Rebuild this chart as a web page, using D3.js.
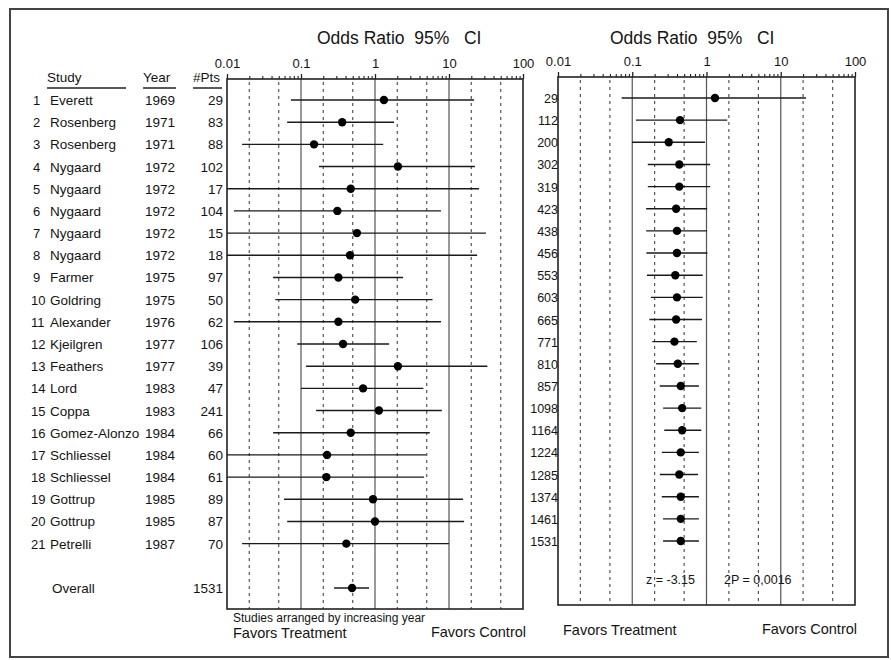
<!DOCTYPE html>
<html>
<head>
<meta charset="utf-8">
<script src="https://cdn.jsdelivr.net/npm/d3@7"></script>
<style>
  body { margin: 0; background: #fff; }
  text { font-family: "Liberation Sans", Arial, Helvetica, sans-serif; fill: #141414; }
</style>
</head>
<body>
<div id="viz-container"></div>
<script>
// data (odds ratio with 95% CI)
let studyNames = ["Everett", "Rosenberg", "Rosenberg", "Nygaard", "Nygaard", "Nygaard", "Nygaard", "Nygaard",
                  "Farmer", "Goldring", "Alexander", "Kjeilgren", "Feathers", "Lord", "Coppa", "Gomez-Alonzo",
                  "Schliessel", "Schliessel", "Gottrup", "Gottrup", "Petrelli"];
let studyYears = [1969, 1971, 1971, 1972, 1972, 1972, 1972, 1972, 1975, 1975, 1976, 1977, 1977, 1983, 1983, 1984,
                  1984, 1984, 1985, 1985, 1987];
let studyPts = [29, 83, 88, 102, 17, 104, 15, 18, 97, 50, 62, 106, 39, 47, 241, 66, 60, 61, 89, 87, 70];

// individual studies (left panel); lows under 0.01 run off the left edge
let studyOR = [1.32, 0.36, 0.15, 2.04, 0.47, 0.31, 0.57, 0.46, 0.32, 0.54, 0.32, 0.37, 2.04, 0.69, 1.13, 0.47,
               0.225, 0.22, 0.94, 1.0, 0.41];
let studyLow = [0.073, 0.065, 0.016, 0.175, 0.005, 0.0124, 0.005, 0.005, 0.042, 0.045, 0.0124, 0.089, 0.117, 0.10,
                0.16, 0.042, 0.005, 0.005, 0.059, 0.065, 0.016];
let studyHigh = [21.8, 1.81, 1.29, 22.4, 25.5, 7.8, 31.6, 24, 2.4, 6.0, 7.8, 1.55, 33, 4.5, 8.0, 5.5, 4.9, 4.6,
                 15.5, 16, 10];

let overallPts = 1531;
let overallOR = 0.49, overallLow = 0.28, overallHigh = 0.83;

// cumulative meta-analysis (right panel)
let cumPts = [29, 112, 200, 302, 319, 423, 438, 456, 553, 603, 665, 771, 810, 857, 1098, 1164, 1224, 1285, 1374,
              1461, 1531];
let cumOR = [1.30, 0.44, 0.31, 0.43, 0.43, 0.39, 0.40, 0.40, 0.38, 0.40, 0.39, 0.37, 0.41, 0.45, 0.47, 0.47, 0.45,
             0.43, 0.45, 0.45, 0.45];
let cumLow = [0.072, 0.112, 0.099, 0.162, 0.162, 0.154, 0.154, 0.155, 0.158, 0.178, 0.17, 0.186, 0.21, 0.235, 0.26,
              0.27, 0.25, 0.235, 0.25, 0.26, 0.26];
let cumHigh = [21.9, 1.9, 0.955, 1.12, 1.12, 1.02, 1.02, 1.03, 0.89, 0.89, 0.87, 0.74, 0.79, 0.79, 0.85, 0.85, 0.79,
               0.77, 0.79, 0.79, 0.79];

let majorTicks = [0.01, 0.1, 1, 10, 100];
let minorTicks = [];
[0.01, 0.1, 1, 10].forEach(function(d){ for (let k = 2; k <= 9; k++) minorTicks.push(d * k); });
let solidLines = [0.1, 1, 10];
let dashedLines = [0.02, 0.05, 0.2, 0.5, 2, 5, 20, 50];

let titleText = "Odds Ratio  95%   CI";

let viz = d3.select("#viz-container")
    .append("svg")
        .attr("width", 891)
        .attr("height", 660)
        .style("background-color", "#fff");

// outer frame
viz.append("rect")
    .attr("x", 10).attr("y", 9)
    .attr("width", 878).attr("height", 648)
    .attr("fill", "none")
    .attr("stroke", "#444")
    .attr("stroke-width", 2);

function drawPanel(xLeft, xRight, yTop, yBottom, titleX){
    let x = d3.scaleLog().domain([0.01, 100]).range([xLeft, xRight]).clamp(true);
    let g = viz.append("g");

    g.selectAll(".solid").data(solidLines).enter().append("line")
        .attr("x1", x).attr("x2", x)
        .attr("y1", yTop).attr("y2", yBottom)
        .attr("stroke", "#555")
        .attr("stroke-width", 1.2);

    g.selectAll(".dash").data(dashedLines).enter().append("line")
        .attr("x1", x).attr("x2", x)
        .attr("y1", yTop + 3).attr("y2", yBottom)
        .attr("stroke", "#555")
        .attr("stroke-width", 1.2)
        .attr("stroke-dasharray", "3,4");

    g.append("rect")
        .attr("x", xLeft).attr("y", yTop)
        .attr("width", xRight - xLeft).attr("height", yBottom - yTop)
        .attr("fill", "none")
        .attr("stroke", "#222")
        .attr("stroke-width", 1.6);

    let major = g.append("g")
        .attr("transform", "translate(0," + yTop + ")")
        .call(d3.axisTop(x).tickValues(majorTicks).tickSize(5).tickPadding(6).tickFormat(String));
    major.select(".domain").remove();
    major.selectAll("line").attr("stroke", "#222").attr("stroke-width", 1.3);
    major.selectAll("text")
        .style("font-family", "'Liberation Sans', Arial, sans-serif")
        .style("font-size", "13px")
        .attr("fill", "#141414");

    let minor = g.append("g")
        .attr("transform", "translate(0," + yTop + ")")
        .call(d3.axisTop(x).tickValues(minorTicks).tickSize(3).tickFormat(""));
    minor.select(".domain").remove();
    minor.selectAll("line").attr("stroke", "#222").attr("stroke-width", 1.1);

    g.append("text")
        .attr("x", titleX).attr("y", 44)
        .style("font-size", "17.5px")
        .style("white-space", "pre")
        .attr("xml:space", "preserve")
        .text(titleText);

    return x;
}

// ----- left panel: individual trials -----
let xL = drawPanel(227, 523, 79, 609, 317);
let rowL = d3.scaleLinear().domain([0, 22]).range([100, 588]);

let rows = studyNames.map(function(n, i){
    return {num: i + 1, name: n, year: studyYears[i], pts: studyPts[i],
            or: studyOR[i], lo: studyLow[i], hi: studyHigh[i]};
});

// column headers
let headers = [{t: "Study", x: 47, w: 79}, {t: "Year", x: 143, w: 33}, {t: "#Pts", x: 193, w: 29}];
viz.selectAll(".hdr").data(headers).enter().append("text")
    .attr("x", function(d){ return d.x; })
    .attr("y", 82)
    .style("font-size", "13.5px")
    .text(function(d){ return d.t; });
viz.selectAll(".hdrline").data(headers).enter().append("line")
    .attr("x1", function(d){ return d.x; })
    .attr("x2", function(d){ return d.x + d.w; })
    .attr("y1", 88).attr("y2", 88)
    .attr("stroke", "#222")
    .attr("stroke-width", 1.5);

let rowText = viz.selectAll(".row").data(rows).enter().append("g")
    .attr("transform", function(d, i){ return "translate(0," + (rowL(i) + 5) + ")"; });
rowText.append("text").attr("x", function(d){ return d.num < 10 ? 33 : 31; })
    .style("font-size", "13px").text(function(d){ return d.num; });
rowText.append("text").attr("x", 50).style("font-size", "13.5px").text(function(d){ return d.name; });
rowText.append("text").attr("x", 145).style("font-size", "13.5px").text(function(d){ return d.year; });
rowText.append("text").attr("x", 223).attr("text-anchor", "end").style("font-size", "13.5px")
    .text(function(d){ return d.pts; });

viz.append("text").attr("x", 52).attr("y", rowL(22) + 5).style("font-size", "13.5px").text("Overall");
viz.append("text").attr("x", 223).attr("y", rowL(22) + 5).attr("text-anchor", "end")
    .style("font-size", "13.5px").text(overallPts);

viz.selectAll(".ciL").data(rows).enter().append("line")
    .attr("x1", function(d){ return xL(d.lo); })
    .attr("x2", function(d){ return xL(d.hi); })
    .attr("y1", function(d, i){ return rowL(i); })
    .attr("y2", function(d, i){ return rowL(i); })
    .attr("stroke", "#1a1a1a")
    .attr("stroke-width", 1.4);
viz.selectAll(".dotL").data(rows).enter().append("circle")
    .attr("cx", function(d){ return xL(d.or); })
    .attr("cy", function(d, i){ return rowL(i); })
    .attr("r", 4.2)
    .attr("fill", "#000");

viz.append("line")
    .attr("x1", xL(overallLow)).attr("x2", xL(overallHigh))
    .attr("y1", rowL(22)).attr("y2", rowL(22))
    .attr("stroke", "#1a1a1a").attr("stroke-width", 1.4);
viz.append("circle")
    .attr("cx", xL(overallOR)).attr("cy", rowL(22)).attr("r", 4.2).attr("fill", "#000");

viz.append("text").attr("x", 233).attr("y", 622).style("font-size", "12px")
    .text("Studies arranged by increasing year");
viz.append("text").attr("x", 233).attr("y", 638).style("font-size", "14.5px").text("Favors Treatment");
viz.append("text").attr("x", 526).attr("y", 637).attr("text-anchor", "end")
    .style("font-size", "14.5px").text("Favors Control");

// ----- right panel: cumulative -----
let xR = drawPanel(558, 855, 77, 605, 610);
let rowR = d3.scaleLinear().domain([0, 20]).range([98, 541]);

let cum = cumPts.map(function(n, i){
    return {pts: n, or: cumOR[i], lo: cumLow[i], hi: cumHigh[i]};
});

viz.selectAll(".cumN").data(cum).enter().append("text")
    .attr("x", 558)
    .attr("y", function(d, i){ return rowR(i) + 5; })
    .attr("text-anchor", "end")
    .style("font-size", "12.5px")
    .text(function(d){ return d.pts; });

viz.selectAll(".ciR").data(cum).enter().append("line")
    .attr("x1", function(d){ return xR(d.lo); })
    .attr("x2", function(d){ return xR(d.hi); })
    .attr("y1", function(d, i){ return rowR(i); })
    .attr("y2", function(d, i){ return rowR(i); })
    .attr("stroke", "#1a1a1a")
    .attr("stroke-width", 1.4);
viz.selectAll(".dotR").data(cum).enter().append("circle")
    .attr("cx", function(d){ return xR(d.or); })
    .attr("cy", function(d, i){ return rowR(i); })
    .attr("r", 4.2)
    .attr("fill", "#000");

viz.append("text").attr("x", 646).attr("y", 584).style("font-size", "12.5px").text("z = -3.15");
viz.append("text").attr("x", 724).attr("y", 584).style("font-size", "12.5px").text("2P = 0,0016");

viz.append("text").attr("x", 563).attr("y", 635).style("font-size", "14.5px").text("Favors Treatment");
viz.append("text").attr("x", 857).attr("y", 634).attr("text-anchor", "end")
    .style("font-size", "14.5px").text("Favors Control");
</script>
</body>
</html>
